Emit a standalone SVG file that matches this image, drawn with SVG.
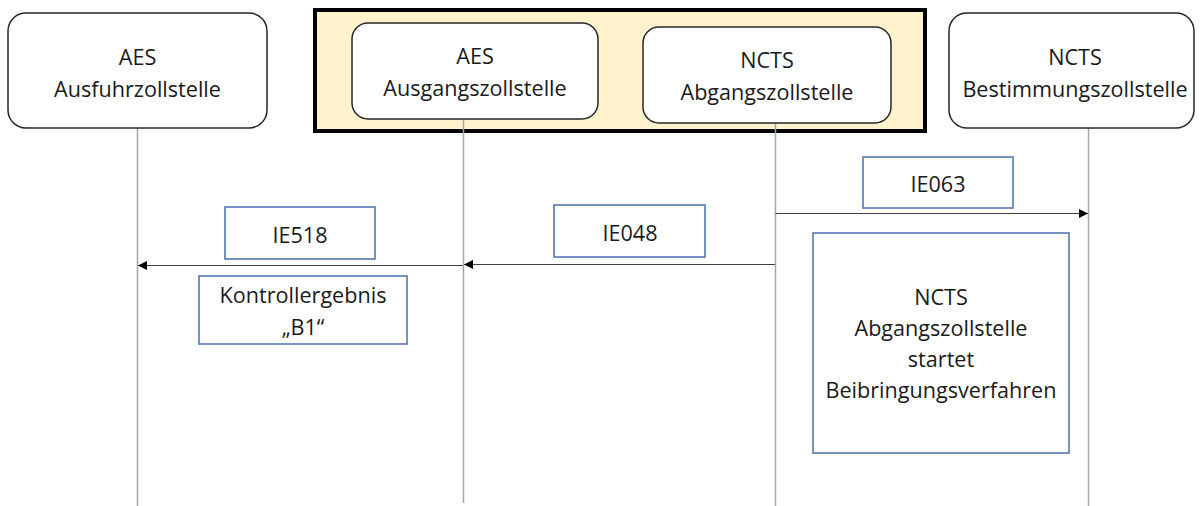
<svg xmlns="http://www.w3.org/2000/svg" width="1201" height="506" viewBox="0 0 1201 506">
  <style>
    .lbl { font-family: "Open Sans", "Liberation Sans", sans-serif; font-size: 21.6px; fill: #1a1a1a; text-anchor: middle; }
    .office { fill: #ffffff; stroke: #262626; stroke-width: 1.5; }
    .note { fill: #ffffff; stroke: #4a6fb0; stroke-width: 1.5; }
    .life { stroke: #a6a6a6; stroke-width: 1.5; fill: none; }
    .msg { stroke: #404040; stroke-width: 1.2; fill: none; marker-end: url(#arrow); }
  </style>
  <defs>
    <marker id="arrow" markerUnits="userSpaceOnUse" markerWidth="10" markerHeight="10" refX="9" refY="4.5" orient="auto">
      <path d="M0,0 L9,4.5 L0,9 Z" fill="#000000"/>
    </marker>
  </defs>

  <rect width="1201" height="506" fill="#ffffff"/>

  <!-- highlighted frame around the two customs offices in the middle -->
  <rect id="frame" x="315" y="10" width="610" height="121" fill="#fff2cc" stroke="#000000" stroke-width="4"/>

  <!-- lifelines -->
  <g id="lifelines">
    <line class="life" x1="137.5" y1="128" x2="137.5" y2="506"/>
    <line class="life" x1="463.5" y1="119" x2="463.5" y2="503"/>
    <line class="life" x1="775.5" y1="123" x2="775.5" y2="506"/>
    <line class="life" x1="1088.5" y1="128" x2="1088.5" y2="506"/>
  </g>

  <!-- offices -->
  <g id="aes-ausfuhr">
    <rect class="office" x="8" y="13" width="259" height="115" rx="18"/>
    <text class="lbl" x="137.5" y="65">AES</text>
    <text class="lbl" x="137.5" y="97">Ausfuhrzollstelle</text>
  </g>
  <g id="aes-ausgang">
    <rect class="office" x="352" y="23" width="246" height="96" rx="16"/>
    <text class="lbl" x="475" y="64">AES</text>
    <text class="lbl" x="475" y="96">Ausgangszollstelle</text>
  </g>
  <g id="ncts-abgang">
    <rect class="office" x="643" y="27" width="248" height="96" rx="16"/>
    <text class="lbl" x="767" y="68">NCTS</text>
    <text class="lbl" x="767" y="100">Abgangszollstelle</text>
  </g>
  <g id="ncts-bestimmung">
    <rect class="office" x="949" y="13" width="245" height="115" rx="18"/>
    <text class="lbl" x="1075" y="65">NCTS</text>
    <text class="lbl" x="1075" y="97">Bestimmungszollstelle</text>
  </g>

  <!-- messages -->
  <g id="connectors">
    <line class="msg" x1="775.5" y1="213.5" x2="1088" y2="213.5"/>
    <line class="msg" x1="775" y1="264.5" x2="464" y2="264.5"/>
    <line class="msg" x1="463" y1="265.5" x2="138" y2="265.5"/>
  </g>

  <!-- message labels and notes -->
  <g id="ie063">
    <rect class="note" x="863" y="157" width="150" height="51"/>
    <text class="lbl" x="938" y="192">IE063</text>
  </g>
  <g id="ie048">
    <rect class="note" x="554" y="205" width="151" height="52"/>
    <text class="lbl" x="630" y="241">IE048</text>
  </g>
  <g id="ie518">
    <rect class="note" x="225" y="207" width="150" height="52"/>
    <text class="lbl" x="300" y="243">IE518</text>
  </g>
  <g id="kontrollergebnis">
    <rect class="note" x="199" y="276" width="208" height="68"/>
    <text class="lbl" x="303" y="303">Kontrollergebnis</text>
    <text class="lbl" x="303" y="335">„B1“</text>
  </g>
  <g id="beibringung">
    <rect class="note" x="813" y="233" width="256" height="220"/>
    <text class="lbl" x="941" y="305">NCTS</text>
    <text class="lbl" x="941" y="336">Abgangszollstelle</text>
    <text class="lbl" x="941" y="367">startet</text>
    <text class="lbl" x="941" y="398">Beibringungsverfahren</text>
  </g>
</svg>
